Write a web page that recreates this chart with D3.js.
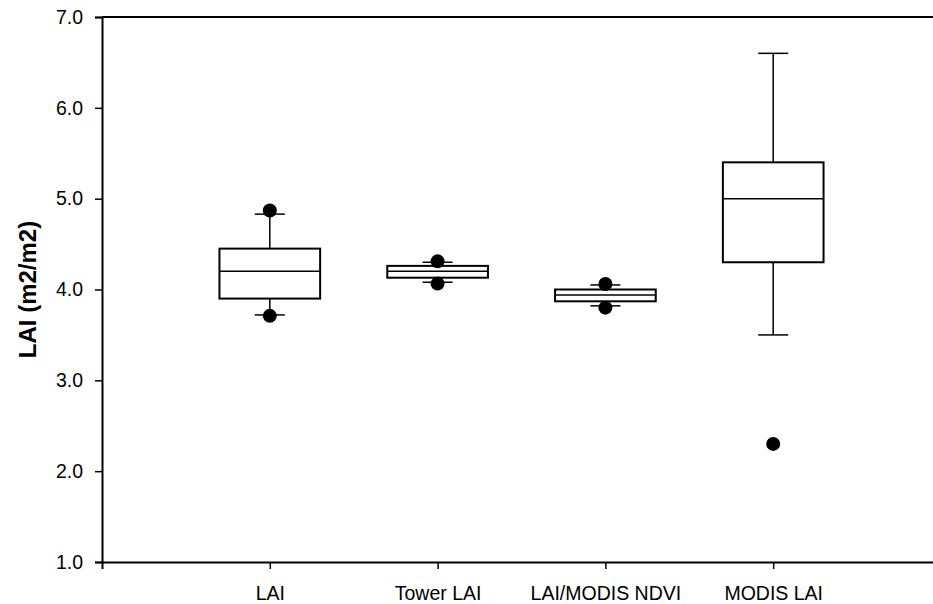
<!DOCTYPE html>
<html>
<head>
<meta charset="utf-8">
<script src="https://cdn.jsdelivr.net/npm/d3@7"></script>
<style>
  html, body { margin: 0; padding: 0; background: #fff; }
  svg { display: block; font-family: "Liberation Sans", Arial, sans-serif; }
</style>
</head>
<body>
<div id="chart"></div>
<script>
// Box plot summary values
const categories = ["LAI", "Tower LAI", "LAI/MODIS NDVI", "MODIS LAI"];
const whiskerLow  = [3.72, 4.08, 3.82, 3.50];
const boxLow      = [3.90, 4.13, 3.87, 4.30];
const medians     = [4.20, 4.20, 3.94, 5.00];
const boxHigh     = [4.45, 4.26, 4.00, 5.40];
const whiskerHigh = [4.83, 4.30, 4.05, 6.60];
// outliers as [category index, value]
const outliers = [[0, 4.87], [0, 3.71], [1, 4.31], [1, 4.065], [2, 4.06], [2, 3.80], [3, 2.30]];
const yTicks = [1, 2, 3, 4, 5, 6, 7];

const width = 933, height = 604;
const margin = { top: 17, right: -8, bottom: 42, left: 102 };

const svg = d3.select("#chart").append("svg")
    .attr("width", width).attr("height", height);

const x = d3.scalePoint()
    .domain(categories)
    .range([margin.left, width - margin.right])
    .padding(1);

const y = d3.scaleLinear()
    .domain([1, 7])
    .range([height - margin.bottom, margin.top]);

const step = x.step();
const boxW = step * 0.6;
const capW = 30;

// Y axis
const yAxis = svg.append("g")
    .attr("transform", `translate(${margin.left},0)`)
    .call(d3.axisLeft(y).tickValues(yTicks).tickFormat(d3.format(".1f")).tickSizeOuter(0).tickSize(7).tickPadding(12));
yAxis.select(".domain").attr("stroke", "#000").attr("stroke-width", 2);
yAxis.selectAll(".tick line").attr("stroke", "#000").attr("stroke-width", 1.5);
yAxis.selectAll("text").attr("fill", "#000").style("font-size", "19.5px");

// X axis
const xAxis = svg.append("g")
    .attr("transform", `translate(0,${y(1)})`)
    .call(d3.axisBottom(x).tickSizeOuter(0).tickSize(7).tickPadding(17));
xAxis.select(".domain").attr("stroke", "#000").attr("stroke-width", 2);
xAxis.selectAll(".tick line").attr("stroke", "#000").attr("stroke-width", 1.5);
xAxis.selectAll("text").attr("fill", "#000").style("font-size", "19.5px");

// top frame line
svg.append("line")
    .attr("x1", margin.left).attr("x2", width)
    .attr("y1", y(7)).attr("y2", y(7))
    .attr("stroke", "#000").attr("stroke-width", 2);

// Y label
svg.append("text")
    .attr("transform", `translate(36,${(y(1) + y(7)) / 2}) rotate(-90)`)
    .attr("text-anchor", "middle")
    .style("font-size", "24px")
    .style("font-weight", "bold")
    .text("LAI (m2/m2)");

const idx = d3.range(categories.length);
const g = svg.append("g");

// whiskers
g.selectAll(".wl").data(idx).enter().append("line")
    .attr("x1", i => x(categories[i])).attr("x2", i => x(categories[i]))
    .attr("y1", i => y(whiskerLow[i])).attr("y2", i => y(boxLow[i]))
    .attr("stroke", "#000").attr("stroke-width", 1.5);
g.selectAll(".wh").data(idx).enter().append("line")
    .attr("x1", i => x(categories[i])).attr("x2", i => x(categories[i]))
    .attr("y1", i => y(whiskerHigh[i])).attr("y2", i => y(boxHigh[i]))
    .attr("stroke", "#000").attr("stroke-width", 1.5);

// caps
[whiskerLow, whiskerHigh].forEach(arr => {
    g.selectAll(null).data(idx).enter().append("line")
        .attr("x1", i => x(categories[i]) - capW / 2).attr("x2", i => x(categories[i]) + capW / 2)
        .attr("y1", i => y(arr[i])).attr("y2", i => y(arr[i]))
        .attr("stroke", "#000").attr("stroke-width", 1.5);
});

// boxes
g.selectAll(".box").data(idx).enter().append("rect")
    .attr("x", i => x(categories[i]) - boxW / 2)
    .attr("y", i => y(boxHigh[i]))
    .attr("width", boxW)
    .attr("height", i => y(boxLow[i]) - y(boxHigh[i]))
    .attr("fill", "#fff").attr("stroke", "#000").attr("stroke-width", 2);

// medians
g.selectAll(".med").data(idx).enter().append("line")
    .attr("x1", i => x(categories[i]) - boxW / 2).attr("x2", i => x(categories[i]) + boxW / 2)
    .attr("y1", i => y(medians[i])).attr("y2", i => y(medians[i]))
    .attr("stroke", "#000").attr("stroke-width", 1.5);

// outliers
g.selectAll(".out").data(outliers).enter().append("circle")
    .attr("cx", d => x(categories[d[0]]))
    .attr("cy", d => y(d[1]))
    .attr("r", 7)
    .attr("fill", "#000");
</script>
</body>
</html>
